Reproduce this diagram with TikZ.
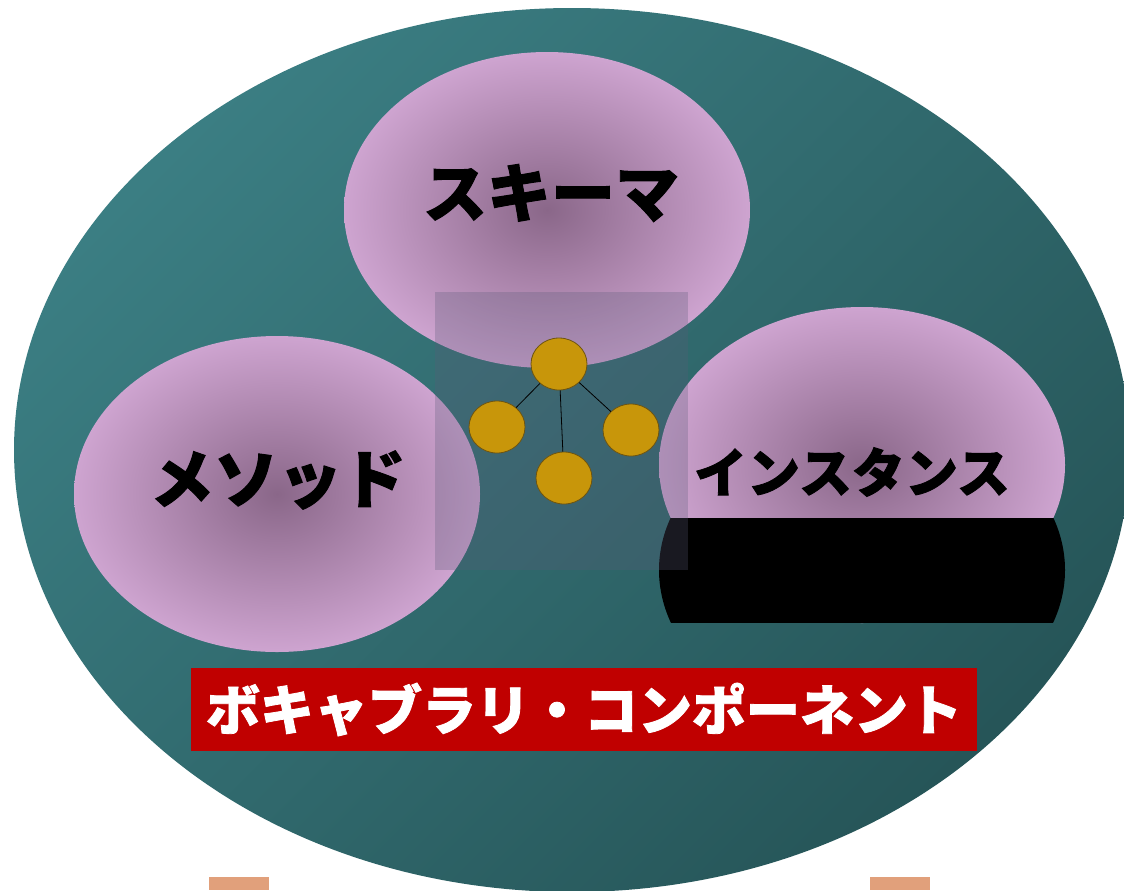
\documentclass[tikz,border=0pt]{standalone}
\usepackage{fontspec}
\newfontfamily\jpfont{Noto Sans CJK JP}[BoldFeatures={FakeBold=1.5}]
\usetikzlibrary{shapes.geometric}
\definecolor{tealtop}{HTML}{3B7E83}
\definecolor{tealbot}{HTML}{265558}
\definecolor{pinkout}{HTML}{CEA4D0}
\definecolor{pinkin}{HTML}{8A6789}
\definecolor{gold}{HTML}{C8960A}
\definecolor{golddark}{HTML}{6E5410}
\definecolor{banner}{HTML}{C00000}
\definecolor{peach}{HTML}{E1A07B}
\definecolor{veil}{HTML}{5B5B77}

\begin{document}
\begin{tikzpicture}[x=0.5pt,y=-0.5pt,
	bubble/.style={ellipse, minimum width=203pt, minimum height=158pt, inner sep=0pt, inner color=pinkin, outer color=pinkout},
	ball/.style={ellipse, draw=golddark, fill=gold, minimum width=28pt, minimum height=26pt, inner sep=0pt},
	title/.style={font=\jpfont\bfseries\fontsize{32}{32}\selectfont, inner sep=0pt},
	small title/.style={font=\jpfont\bfseries\fontsize{26.5}{26.5}\selectfont, inner sep=0pt}]
		\clip (0,0) rectangle (1124,890);
		
		% outer body
		\shade[top color=tealtop, bottom color=tealbot, shading angle=45] (572,450) ellipse [x radius=279pt, y radius=221pt];
		
		% three parts
		\node[bubble] (schemabub) at (547,210) {};
		\node[bubble] (methodbub) at (277,494) {};
		\node[bubble] (instbub) at (862,465) {};
		\begin{scope}
			\clip (600,518) rectangle (1124,622);
			\fill[black] (862,570) ellipse [x radius=101.5pt, y radius=78pt];
		\end{scope}
		
		\fill[veil, fill opacity=0.28] (435,292) rectangle (688,570);
		
		% small tree
		\node[ball] (root) at (559,364) {};
		\node[ball] (leftleaf) at (497,427) {};
		\node[ball] (rightleaf) at (631,430) {};
		\node[ball] (midleaf) at (564,478) {};
		\draw (root) -- (leftleaf);
		\draw (root) -- (midleaf);
		\draw (root) -- (rightleaf);
		
		\node[title] (schema) at (551,193) {スキーマ};
		\node[title] (method) at (278,480) {メソッド};
		\node[small title] (instance) at (852,472) {インスタンス};
		
		\node[fill=banner, minimum width=393pt, minimum height=41.5pt, inner sep=0pt, text=white, font=\jpfont\bfseries\fontsize{27}{27}\selectfont] (vocab) at (584,709.5) {ボキャブラリ・コンポーネント};
		
		\fill[peach] (209,877) rectangle (269,890);
		\fill[peach] (870,877) rectangle (930,890);
\end{tikzpicture}
\end{document}
